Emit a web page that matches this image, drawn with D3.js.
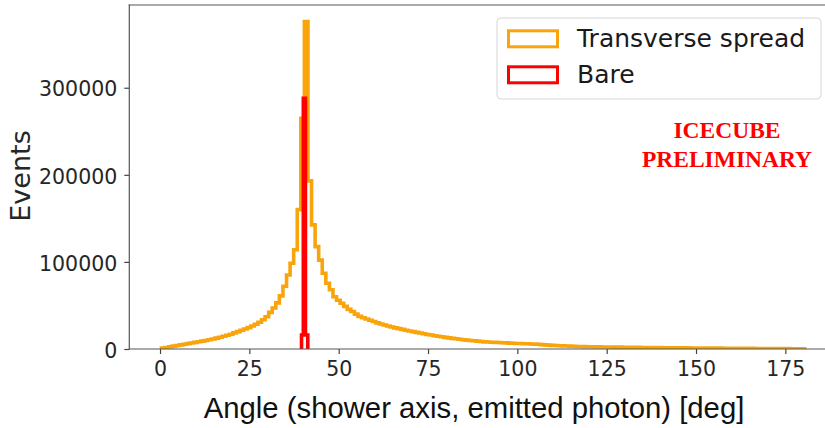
<!DOCTYPE html>
<html>
<head>
<meta charset="utf-8">
<script src="https://cdn.jsdelivr.net/npm/d3@7"></script>
<style>
  body { margin: 0; background: #fff; }
  svg { display: block; }
</style>
</head>
<body>
<svg id="chart" width="825" height="428"></svg>
<script>
// histogram bins, 1 deg wide, first edge at 0.4 deg
const binStart = 0.4;
const binWidth = 1;

// "Transverse spread" counts per bin
const transverseCounts = [
  1000, 1800, 2600, 3300, 4000, 4700, 5400, 6200, 6900, 7600,
  8300, 9000, 9800, 10600, 11500, 12500, 13500, 14700, 15800, 17000,
  18500, 20000, 21500, 23000, 24600, 26400, 28400, 30800, 33600, 37000,
  42000, 47000, 53000, 61000, 72000, 85000, 98500, 114000, 160000, 265000,
  376000, 193000, 142500, 117600, 102000, 87000, 75500, 68000, 60000, 56000,
  52500, 49000, 45500, 43000, 40000, 37500, 35800, 34500, 33000, 31500,
  30000, 28700, 27500, 26400, 25300, 24300, 23400, 22500, 21600, 20700,
  19900, 19100, 18300, 17500, 16700, 16000, 15300, 14600, 14000, 13400,
  12800, 12200, 11700, 11200, 10700, 10200, 9800, 9400, 9000, 8600,
  8200, 8000, 7800, 7600, 7400, 7200, 7000, 6800, 6600, 6400,
  6250, 6100, 5950, 5800, 5650, 5500, 5000, 4700, 4400, 4200,
  4000, 3800, 3600, 3400, 3250, 3100, 2950, 2800, 2700, 2600,
  2500, 2450, 2400, 2350, 2300, 2250, 2200, 2150, 2100, 2050,
  2000, 1950, 1900, 1850, 1800, 1750, 1700, 1650, 1600, 1560,
  1520, 1480, 1440, 1400, 1360, 1320, 1280, 1240, 1200, 1170,
  1140, 1110, 1080, 1050, 1020, 990, 960, 930, 900, 870,
  840, 810, 780, 750, 720, 690, 660, 630, 600, 570,
  540, 510, 480, 450, 420, 390, 360, 330, 300, 250
];

// "Bare" has its own narrow bins around the Cherenkov angle
const bareEdges = [39.6, 40.1, 40.7, 41.35];
const bareCounts = [16000, 288000, 16000];

const xTicks = [0, 25, 50, 75, 100, 125, 150, 175];
const yTicks = [0, 100000, 200000, 300000];
const seriesNames = ['Transverse spread', 'Bare'];
const seriesColors = ['#f9a40a', '#ff0000'];
const watermark = ['ICECUBE', 'PRELIMINARY'];

const transverseEdges = d3.range(transverseCounts.length + 1).map(i => binStart + i * binWidth);

const svg = d3.select('#chart');
const margin = { top: 5, left: 129.3, bottom: 349 };
const plotRight = 836.8;

const xScale = d3.scaleLinear()
  .domain([-8.6, 189.4])
  .range([margin.left, plotRight]);

const yScale = d3.scaleLinear()
  .domain([0, 395000])
  .range([margin.bottom, margin.top]);

// step outline like matplotlib histtype='step'
const stepPoints = (edges, counts) => {
  const pts = [[edges[0], 0]];
  counts.forEach((c, i) => {
    pts.push([edges[i], c]);
    pts.push([edges[i + 1], c]);
  });
  pts.push([edges[edges.length - 1], 0]);
  return pts;
};

const line = d3.line()
  .x(d => xScale(d[0]))
  .y(d => yScale(d[1]));

const plot = svg.append('g').attr('class', 'plot');

plot.append('clipPath').attr('id', 'clip')
  .append('rect')
  .attr('x', margin.left)
  .attr('y', margin.top)
  .attr('width', plotRight - margin.left)
  .attr('height', margin.bottom - margin.top);

const series = [
  { name: seriesNames[0], color: seriesColors[0], pts: stepPoints(transverseEdges, transverseCounts) },
  { name: seriesNames[1], color: seriesColors[1], pts: stepPoints(bareEdges, bareCounts) }
];

plot.selectAll('.hist').data(series)
  .enter().append('path')
    .attr('class', 'hist')
    .attr('d', d => line(d.pts))
    .attr('fill', 'none')
    .attr('stroke', d => d.color)
    .attr('stroke-width', 3.6)
    .attr('stroke-linejoin', 'miter')
    .attr('clip-path', 'url(#clip)');

// axes
const tickFont = g => {
  g.select('.domain').remove();
  g.selectAll('line').attr('stroke', '#444').attr('stroke-width', 1.2);
  g.selectAll('text')
    .attr('font-family', 'DejaVu Sans')
    .attr('font-size', 20.5)
    .attr('fill', '#262626');
};

svg.append('g')
  .attr('transform', `translate(0, ${margin.bottom})`)
  .call(d3.axisBottom(xScale).tickValues(xTicks).tickSize(5).tickPadding(7).tickFormat(d3.format('d')))
  .call(tickFont);

const yAxisG = svg.append('g')
  .attr('transform', `translate(${margin.left}, 0)`)
  .call(d3.axisLeft(yScale).tickValues(yTicks).tickSize(5).tickPadding(7).tickFormat(d3.format('d')))
  .call(tickFont);
yAxisG.selectAll('text').attr('dy', '0.4em');

// spines
const spines = [
  [margin.left, margin.top, margin.left, margin.bottom],
  [margin.left, margin.top, plotRight, margin.top],
  [margin.left, margin.bottom, plotRight, margin.bottom]
];
svg.selectAll('.spine').data(spines)
  .enter().append('line')
    .attr('class', 'spine')
    .attr('x1', d => d[0]).attr('y1', d => d[1])
    .attr('x2', d => d[2]).attr('y2', d => d[3])
    .attr('stroke', '#555')
    .attr('stroke-width', 1.2)
    .attr('stroke-linecap', 'square');

// axis labels
svg.append('text')
  .attr('transform', 'translate(30, 176) rotate(-90)')
  .attr('text-anchor', 'middle')
  .attr('font-family', 'DejaVu Sans')
  .attr('font-size', 27)
  .attr('fill', '#262626')
  .text('Events');

svg.append('text')
  .attr('x', 474)
  .attr('y', 418)
  .attr('text-anchor', 'middle')
  .attr('font-family', 'Liberation Sans, Arial, sans-serif')
  .attr('font-size', 29.3)
  .attr('fill', '#111')
  .text('Angle (shower axis, emitted photon) [deg]');

// legend
const legend = svg.append('g').attr('class', 'legend');
legend.append('rect')
  .attr('x', 497).attr('y', 18)
  .attr('width', 324).attr('height', 81)
  .attr('rx', 4)
  .attr('fill', '#fff')
  .attr('fill-opacity', 0.8)
  .attr('stroke', '#d6d6d6')
  .attr('stroke-width', 1);

const items = legend.selectAll('.item').data(series)
  .enter().append('g')
    .attr('class', 'item')
    .attr('transform', (d, i) => `translate(0, ${i * 36})`);

items.append('rect')
  .attr('x', 508.5).attr('y', 30.8)
  .attr('width', 49).attr('height', 16)
  .attr('fill', 'none')
  .attr('stroke', d => d.color)
  .attr('stroke-width', 3);

items.append('text')
  .attr('x', 577).attr('y', 46.7)
  .attr('font-family', 'DejaVu Sans')
  .attr('font-size', 25)
  .attr('fill', '#1a1a1a')
  .text(d => d.name);

// watermark
svg.selectAll('.mark').data(watermark)
  .enter().append('text')
    .attr('class', 'mark')
    .attr('x', 727)
    .attr('y', (d, i) => 138.3 + i * 28.4)
    .attr('text-anchor', 'middle')
    .attr('font-family', 'Liberation Serif, Times New Roman, serif')
    .attr('font-weight', 'bold')
    .attr('font-size', 23.5)
    .attr('fill', '#ff0000')
    .text(d => d);
</script>
</body>
</html>
